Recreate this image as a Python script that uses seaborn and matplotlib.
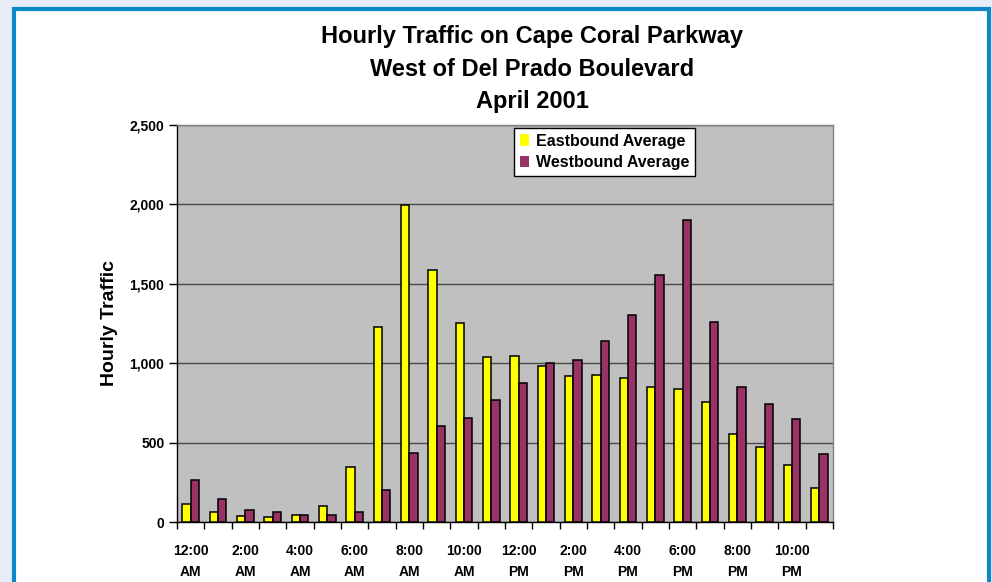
import matplotlib
matplotlib.use("Agg")
import matplotlib.pyplot as plt
import matplotlib.patches as mpatches
from matplotlib.ticker import FuncFormatter, MultipleLocator
import seaborn as sns
import pandas as pd
import numpy as np

# ---- data ----
hours = ["12:00 AM", "1:00 AM", "2:00 AM", "3:00 AM", "4:00 AM", "5:00 AM",
         "6:00 AM", "7:00 AM", "8:00 AM", "9:00 AM", "10:00 AM", "11:00 AM",
         "12:00 PM", "1:00 PM", "2:00 PM", "3:00 PM", "4:00 PM", "5:00 PM",
         "6:00 PM", "7:00 PM", "8:00 PM", "9:00 PM", "10:00 PM", "11:00 PM"]
eastbound = [112, 61, 36, 31, 42, 99, 344, 1226, 1994, 1585, 1251, 1041,
             1047, 980, 917, 924, 905, 850, 835, 754, 554, 470, 357, 212]
westbound = [264, 145, 76, 61, 42, 42, 61, 201, 432, 604, 653, 766,
             873, 999, 1018, 1140, 1301, 1553, 1900, 1257, 850, 741, 647, 426]
series_names = ["Eastbound Average", "Westbound Average"]
tick_labels = ["12:00\nAM", "2:00\nAM", "4:00\nAM", "6:00\nAM", "8:00\nAM", "10:00\nAM",
               "12:00\nPM", "2:00\nPM", "4:00\nPM", "6:00\nPM", "8:00\nPM", "10:00\nPM"]
title_lines = ["Hourly Traffic on Cape Coral Parkway", "West of Del Prado Boulevard", "April 2001"]
y_label = "Hourly Traffic"

df = pd.DataFrame({
    "hour": hours * 2,
    "traffic": eastbound + westbound,
    "direction": [series_names[0]] * len(hours) + [series_names[1]] * len(hours),
})

colors = {series_names[0]: "#FFFF00", series_names[1]: "#993366"}

sns.set_style("white")
plt.rcParams["font.family"] = ["Liberation Sans", "DejaVu Sans"]
plt.rcParams["font.weight"] = "bold"
plt.rcParams["text.color"] = "black"
plt.rcParams["axes.labelcolor"] = "black"
plt.rcParams["xtick.color"] = "black"
plt.rcParams["ytick.color"] = "black"

W, H = 992, 582
fig = plt.figure(figsize=(W / 100, H / 100), dpi=100)
fig.patch.set_facecolor("#E6EDF6")

# white panel with blue frame
panel = mpatches.Rectangle((14 / W, -0.05), (989 - 14) / W, (H - 8.5) / H + 0.05,
                           transform=fig.transFigure, facecolor="white",
                           edgecolor="#0A88C8", linewidth=3.0, zorder=-10)
fig.patches.append(panel)

ax = fig.add_axes([177 / W, 1 - 522 / H, 656 / W, 397 / H])
ax.set_zorder(5)
ax.set_facecolor("#C0C0C0")

sns.barplot(data=df, x="hour", y="traffic", hue="direction", order=hours,
            hue_order=series_names, palette=colors, saturation=1, width=0.6,
            edgecolor="black", linewidth=1.1, ax=ax, zorder=3)

ax.set_ylim(0, 2500)
ax.set_xlim(-0.5, len(hours) - 0.5)
ax.yaxis.set_major_locator(MultipleLocator(500))
ax.yaxis.set_major_formatter(FuncFormatter(lambda v, p: f"{int(v):,}"))
ax.grid(axis="y", color="#4a4a4a", linewidth=1.0, zorder=1)
ax.set_axisbelow(True)

ax.set_xticks(np.arange(0, len(hours), 2))
ax.set_xticklabels(tick_labels, fontsize=10, fontweight="bold", linespacing=1.65)
ax.set_xticks(np.arange(-0.5, len(hours), 1), minor=True)
ax.tick_params(axis="both", which="both", bottom=True, left=True, top=False, right=False)
ax.tick_params(axis="x", which="major", length=0, pad=16)
ax.tick_params(axis="x", which="minor", length=5, width=1, color="black", direction="out")
ax.tick_params(axis="y", which="major", length=6, width=1, color="black", direction="out",
               labelsize=10, pad=3)
for lab in ax.get_yticklabels():
    lab.set_fontweight("bold")

ax.set_xlabel("")
ax.set_ylabel(y_label, fontsize=14, fontweight="bold")
ax.yaxis.set_label_coords(-(177 - 110) / 656, 0.5)
ax.yaxis.label.set_va("center")

for side in ["left", "bottom"]:
    ax.spines[side].set_color("black")
    ax.spines[side].set_linewidth(1.0)
for side in ["top", "right"]:
    ax.spines[side].set_color("#808080")
    ax.spines[side].set_linewidth(1.0)

handles = [mpatches.Patch(facecolor=colors[n], edgecolor="none") for n in series_names]
leg = ax.legend(handles, series_names, loc="upper left",
                bbox_to_anchor=((514 - 177) / 656, (522 - 128) / 397),
                frameon=True, fancybox=False, framealpha=1, edgecolor="black",
                prop={"weight": "bold", "size": 11.5}, handlelength=0.6, handleheight=0.75,
                handletextpad=0.4, borderpad=0.35, labelspacing=0.4, borderaxespad=0)
leg.get_frame().set_linewidth(1.0)

ys = [37, 69, 101]
for line, yy in zip(title_lines, ys):
    fig.text(532 / W, 1 - yy / H, line, ha="center", va="center",
             fontsize=17, fontweight="bold", color="black")

fig.savefig("out.png", dpi=100, facecolor=fig.get_facecolor())
